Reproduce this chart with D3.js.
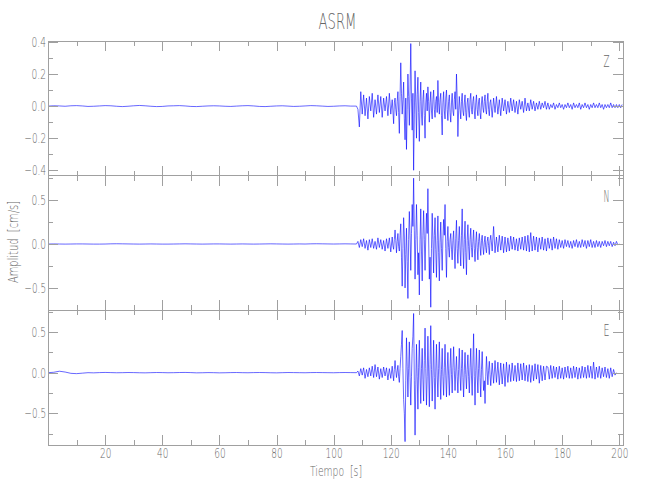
<!DOCTYPE html>
<html><head><meta charset="utf-8">
<script src="https://cdn.jsdelivr.net/npm/d3@7"></script>
<style>
body{margin:0;background:#fff}
svg{display:block}
text{font-family:"DejaVu Sans",sans-serif;font-weight:200;fill:#666}
</style>
</head><body><svg id="c" width="650" height="500"></svg>
<script>
const title = "ASRM";
const xLabel = "Tiempo  [s]";
const yLabel = "Amplitud  [cm/s]";
const channels = ["Z", "N", "E"];

// sampling grid of the traced values (s)
const preStart = 0, preStep = 2;          // quiet part
const earlyStart = 108, earlyStep = 0.5;  // first arrivals
const strongStart = 120.5, strongStep = 0.25; // strong motion
const tailStart = 155.5, tailStep = 0.5;  // coda

const zPre = [0.000,0.002,0.001,-0.001,0.002,0.003,0.001,-0.002,-0.001,0.001,0.003,0.002,-0.001,-0.003,-0.001,0.002,0.004,0.002,-0.001,-0.003,-0.002,0.001,0.002,0.003,0.001,-0.002,-0.003,-0.001,0.001,0.002,0.001,-0.001,-0.002,0.000,0.002,0.003,0.001,-0.002,-0.003,-0.001,0.001,0.002,0.000,-0.002,-0.001,0.001,0.003,0.002,0.000,-0.002,-0.001,0.001,0.002,0.000];
const zEarly = [0.00,-0.02,-0.13,0.09,-0.05,0.07,-0.06,0.05,-0.08,0.06,-0.03,0.08,-0.07,0.04,-0.05,0.07,-0.04,0.06,-0.07,0.05,-0.03,0.06,-0.06,0.08,-0.05];
const zStrong = [
 0.04,-0.03,-0.11,0.02,0.05,-0.02,-0.06,0.03,0.09,-0.04,-0.17,0.06,0.27,0.08,-0.05,0.04,0.15,-0.08,-0.21,0.05,
 -0.27,-0.02,0.20,0.06,-0.12,0.10,0.39,0.05,-0.15,0.08,-0.40,-0.05,0.22,0.02,-0.20,0.07,0.18,-0.04,-0.22,0.03,
 0.15,-0.05,-0.12,0.04,0.10,-0.06,-0.20,0.02,0.08,-0.03,0.12,0.03,-0.10,0.02,0.09,-0.03,-0.08,0.04,0.10,-0.02,
 -0.07,0.03,0.06,-0.04,0.16,0.02,-0.05,0.04,0.08,-0.06,-0.18,0.02,0.09,-0.03,-0.08,0.05,0.10,-0.02,-0.09,0.03,
 0.07,-0.04,-0.10,0.02,0.08,-0.03,-0.06,0.04,0.09,-0.02,0.20,0.05,-0.19,-0.03,0.06,-0.02,-0.08,0.03,0.08,-0.03,
 -0.06,0.02,0.07,-0.04,-0.09,0.02,0.05,-0.03,-0.07,0.04,0.08,-0.02,-0.05,0.03,0.06,-0.03,-0.08,0.02,0.07,-0.02,
 -0.06,0.03,0.05,-0.04,-0.08,0.02,0.06,-0.01,-0.04,0.03,0.07,-0.02,-0.05,0.03,0.08,-0.02,-0.06,0.02,0.04];
const zTail = [
 -0.07,0.05,-0.04,0.06,-0.05,
 0.04,-0.06,0.05,-0.03,0.04,-0.05,0.03,-0.04,0.05,-0.03,0.04,-0.04,0.03,-0.05,0.04,-0.02,0.03,-0.04,0.05,-0.03,
 0.02,-0.03,0.04,-0.02,0.03,-0.03,0.02,-0.02,0.03,-0.02,0.02,-0.01,0.03,-0.02,
 0.02,-0.02,0.01,-0.01,0.02,-0.02,0.01,-0.01,0.02,-0.01,0.01,-0.02,0.01,-0.01,0.02,-0.01,
 0.01,-0.02,0.02,-0.01,0.01,-0.01,0.02,-0.02,0.01,-0.01,0.02,-0.01,0.01,-0.02,0.01,-0.01,
 0.02,-0.01,0.01,-0.01,0.02,-0.01,0.01,-0.02,0.01,-0.01,0.01,-0.01,0.02,-0.01,0.01,-0.01,
 0.01,-0.01,0.01,-0.01,0.01];

const nPre = [0.000,0.001,0.000,-0.001,0.000,0.001,0.001,0.000,-0.001,-0.001,0.000,0.002,0.003,0.002,0.001,0.000,-0.001,0.000,0.001,0.000,-0.001,-0.001,0.000,0.001,0.002,0.001,0.000,-0.001,0.000,0.001,0.001,0.000,-0.001,0.000,0.001,0.000,-0.001,0.000,0.001,0.002,0.001,0.000,-0.001,0.000,0.001,0.000,0.002,0.003,0.002,0.001,0.000,0.001,0.002,0.001];
const nEarly = [0.00,0.03,-0.04,0.05,-0.03,0.06,-0.05,0.04,-0.07,0.05,-0.04,0.06,-0.05,0.03,-0.06,0.07,-0.04,0.05,-0.06,0.04,-0.08,0.06,-0.05,0.07,-0.09];
const nStrong = [
 0.08,-0.02,-0.06,0.05,0.16,0.04,-0.10,0.03,0.12,-0.03,-0.08,0.10,0.23,-0.15,-0.48,-0.05,0.30,0.08,-0.50,-0.12,
 0.18,-0.20,-0.62,0.05,0.37,0.10,-0.30,0.12,0.45,0.20,0.75,0.15,-0.40,0.05,0.45,0.10,-0.35,-0.10,-0.58,0.05,
 0.40,-0.08,-0.42,0.10,0.38,0.05,-0.30,0.08,0.35,0.12,0.63,0.08,-0.40,-0.15,-0.72,-0.05,0.35,0.05,-0.33,0.10,
 0.30,-0.06,-0.38,0.04,0.32,-0.10,-0.42,0.02,0.25,-0.05,-0.30,0.06,0.28,0.10,0.45,-0.05,-0.38,0.03,0.20,-0.04,
 -0.15,0.05,0.12,-0.06,-0.18,0.04,0.15,-0.08,-0.28,0.06,0.27,-0.05,-0.22,0.04,0.20,-0.06,-0.25,0.10,0.40,-0.04,
 -0.28,0.05,0.26,-0.10,-0.35,0.04,0.22,-0.03,-0.18,0.05,0.18,-0.04,-0.15,0.03,0.16,-0.05,-0.20,0.02,0.14,-0.04,
 -0.18,0.03,0.12,-0.02,-0.13,0.04,0.10,-0.03,-0.12,0.02,0.09,-0.04,-0.10,0.03,0.08,-0.02,-0.12,0.04,0.10];
const nTail = [
 -0.08,0.20,-0.10,0.08,-0.09,
 0.10,-0.07,0.09,-0.10,0.08,-0.09,0.07,-0.08,0.09,-0.06,0.08,-0.07,0.06,-0.08,0.07,-0.06,0.08,-0.07,0.09,-0.08,
 0.10,-0.09,0.13,-0.08,0.09,-0.07,0.08,-0.09,0.07,-0.06,0.08,-0.07,0.06,-0.08,0.07,-0.05,0.06,-0.07,0.08,-0.05,
 0.06,-0.06,0.05,-0.04,
 0.04,-0.05,0.05,-0.03,0.04,-0.04,0.03,-0.05,0.04,-0.03,0.05,-0.04,0.03,-0.04,0.05,-0.03,
 0.04,-0.05,0.04,-0.03,0.05,-0.04,0.03,-0.04,0.04,-0.03,0.03,-0.04,0.03,-0.02,0.04,-0.03,
 0.03,-0.02,0.03,-0.03,0.02,-0.02,0.03,-0.01,0.00];

const ePre = [0.000,0.005,0.018,0.008,-0.008,-0.012,-0.006,0.000,-0.002,0.001,0.003,0.001,-0.001,0.000,0.002,0.001,-0.001,-0.002,0.000,0.002,0.001,-0.001,0.000,0.002,0.003,0.001,-0.002,-0.001,0.001,0.000,-0.002,-0.001,0.001,0.002,0.000,-0.001,0.001,0.002,0.001,-0.001,-0.002,0.000,0.002,0.001,0.000,-0.001,0.001,0.002,0.001,0.000,-0.001,0.001,0.002,0.001];
const eEarly = [0.00,0.02,-0.04,0.05,-0.03,0.06,-0.07,0.04,-0.05,0.06,-0.04,0.08,-0.06,0.10,-0.05,0.07,-0.08,0.05,-0.06,0.07,-0.04,0.06,-0.09,0.05,-0.07];
const eStrong = [
 0.08,-0.02,-0.10,0.04,0.15,0.03,-0.06,0.02,0.09,-0.05,-0.12,0.05,0.20,0.35,0.52,0.05,-0.33,-0.50,-0.85,-0.10,
 0.43,0.08,-0.30,0.05,0.38,-0.06,-0.40,-0.05,0.30,0.45,0.73,-0.10,-0.77,-0.15,0.35,-0.05,-0.45,0.06,0.40,-0.04,
 -0.38,0.05,0.30,-0.08,-0.35,0.15,0.55,0.05,-0.40,-0.05,0.45,0.02,-0.42,0.10,0.58,0.04,-0.35,-0.03,0.40,-0.06,
 -0.45,0.02,0.35,-0.04,-0.30,0.05,0.38,-0.02,-0.33,0.04,0.30,-0.05,-0.28,0.06,0.35,-0.03,-0.30,0.02,0.25,-0.04,
 -0.28,0.05,0.30,-0.02,-0.25,0.06,0.32,0.03,-0.22,0.02,0.20,-0.05,-0.25,0.04,0.30,-0.03,-0.22,0.05,0.28,-0.06,
 -0.30,0.03,0.25,-0.02,-0.20,0.04,0.22,-0.05,-0.25,0.06,0.30,-0.04,-0.28,0.12,0.48,-0.05,-0.40,0.03,0.30,-0.04,
 -0.25,0.05,0.28,-0.06,-0.30,0.04,0.26,-0.03,-0.22,-0.10,-0.38,-0.05,0.20,0.02,-0.15,0.03,0.14,-0.02,-0.16];
const eTail = [
 0.12,-0.13,0.15,-0.12,0.13,
 -0.15,0.12,-0.14,0.11,-0.17,0.13,-0.12,0.10,-0.11,0.12,-0.10,0.09,-0.11,0.12,-0.10,0.11,-0.09,0.12,-0.10,0.09,
 -0.11,0.10,-0.12,0.09,-0.10,0.11,-0.08,0.10,-0.13,0.09,-0.10,0.08,-0.09,0.08,
 0.07,-0.08,0.09,-0.07,0.08,-0.06,0.07,-0.08,0.08,-0.07,0.06,-0.08,0.07,-0.06,0.08,-0.07,
 0.06,-0.07,0.08,-0.06,0.07,-0.08,0.06,-0.07,0.08,-0.06,0.07,-0.07,0.09,-0.06,0.08,-0.07,
 0.13,-0.08,0.07,-0.06,0.08,-0.07,0.06,-0.05,0.07,-0.06,0.05,-0.07,0.06,-0.05,0.04,-0.03,0.00];

const seriesByChannel = [
  [zPre, zEarly, zStrong, zTail],
  [nPre, nEarly, nStrong, nTail],
  [ePre, eEarly, eStrong, eTail]
];
const segStarts = [preStart, earlyStart, strongStart, tailStart];
const segSteps = [preStep, earlyStep, strongStep, tailStep];

// axis ranges
const xDomain = [0, 201.3];
const yDomains = [[-0.434, 0.406], [-0.756, 0.778], [-0.893, 0.768]];
const yMajorTicks = [[-0.4, -0.2, 0.0, 0.2, 0.4], [-0.5, 0.0, 0.5], [-0.5, 0.0, 0.5]];
const yMinorTicks = [[-0.3, -0.1, 0.1, 0.3], [-0.75, -0.25, 0.25, 0.75], [-0.75, -0.25, 0.25, 0.75]];
const xMajorTicks = [20, 40, 60, 80, 100, 120, 140, 160, 180, 200];
const xMinorTicks = [10, 30, 50, 70, 90, 110, 130, 150, 170, 190];

const svg = d3.select("#c");
const plotLeft = 48, plotRight = 623, plotTop = 41, panelH = 134.7;
const axisColor = "#a0a0a0";
const textColor = "#666";

const x = d3.scaleLinear().domain(xDomain).range([plotLeft, plotRight]);

// width of a tick label in the narrow stroke font of the original
function labelWidth(s) {
  let w = 0;
  for (const c of s) w += (c === "." ? 3 : c === "\u2212" ? 7 : 5.7);
  return w;
}

function styleAxis(g) {
  g.select(".domain").remove();
  g.selectAll(".tick line").attr("stroke", axisColor).attr("shape-rendering", "crispEdges");
  g.selectAll(".tick text").attr("fill", textColor).style("font-size", "14px")
    .each(function () {
      const s = this.textContent;
      if (s) d3.select(this).attr("textLength", labelWidth(s)).attr("lengthAdjust", "spacingAndGlyphs");
    });
}

channels.forEach((ch, i) => {
  const y0 = plotTop + i * panelH, y1 = y0 + panelH;
  const y = d3.scaleLinear().domain(yDomains[i]).range([y1, y0]);
  const g = svg.append("g");

  const clipId = "clip" + i;
  svg.append("clipPath").attr("id", clipId).append("rect")
    .attr("x", plotLeft).attr("y", y0).attr("width", plotRight - plotLeft).attr("height", panelH);

  const data = [];
  seriesByChannel[i].forEach((vals, s) => {
    vals.forEach((v, k) => data.push({t: segStarts[s] + k * segSteps[s], v}));
  });

  g.append("path").datum(data)
    .attr("clip-path", `url(#${clipId})`)
    .attr("fill", "none").attr("stroke", "#0000ff").attr("stroke-width", 0.6)
    .attr("stroke-linejoin", "round")
    .attr("d", d3.line().x(d => x(d.t)).y(d => y(d.v)));

  g.append("rect").attr("x", plotLeft).attr("y", y0).attr("width", plotRight - plotLeft).attr("height", panelH)
    .attr("fill", "none").attr("stroke", axisColor).attr("shape-rendering", "crispEdges");

  g.append("g").attr("transform", `translate(${plotLeft},0)`)
    .call(d3.axisLeft(y).tickValues(yMajorTicks[i]).tickSize(-10).tickPadding(2).tickFormat(d3.format(".1f")))
    .call(styleAxis);
  g.append("g").attr("transform", `translate(${plotLeft},0)`)
    .call(d3.axisLeft(y).tickValues(yMinorTicks[i]).tickSize(-5).tickFormat(""))
    .call(styleAxis);
  g.append("g").attr("transform", `translate(${plotRight},0)`)
    .call(d3.axisRight(y).tickValues(yMajorTicks[i]).tickSize(-10).tickFormat(""))
    .call(styleAxis);
  g.append("g").attr("transform", `translate(${plotRight},0)`)
    .call(d3.axisRight(y).tickValues(yMinorTicks[i]).tickSize(-5).tickFormat(""))
    .call(styleAxis);
  g.append("g").attr("transform", `translate(0,${y0})`)
    .call(d3.axisTop(x).tickValues(xMajorTicks).tickSize(-10).tickFormat(""))
    .call(styleAxis);
  g.append("g").attr("transform", `translate(0,${y0})`)
    .call(d3.axisTop(x).tickValues(xMinorTicks).tickSize(-5).tickFormat(""))
    .call(styleAxis);
  g.append("g").attr("transform", `translate(0,${y1})`)
    .call(d3.axisBottom(x).tickValues(xMajorTicks).tickSize(-10).tickPadding(3)
      .tickFormat(i === channels.length - 1 ? d3.format("d") : ""))
    .call(styleAxis);
  g.append("g").attr("transform", `translate(0,${y1})`)
    .call(d3.axisBottom(x).tickValues(xMinorTicks).tickSize(-5).tickFormat(""))
    .call(styleAxis);

  g.append("text").attr("x", 606.5).attr("y", y0 + 26).attr("text-anchor", "middle")
    .attr("fill", textColor).style("font-size", "15px")
    .attr("textLength", 6).attr("lengthAdjust", "spacingAndGlyphs").text(ch);
});

svg.append("text").attr("x", 337.5).attr("y", 29).attr("text-anchor", "middle")
  .attr("fill", textColor).style("font-size", "21px")
  .attr("textLength", 38).attr("lengthAdjust", "spacingAndGlyphs")
  .text(title);

svg.append("text").attr("x", 336).attr("y", 476).attr("text-anchor", "middle")
  .attr("fill", textColor).style("font-size", "14px").attr("xml:space", "preserve")
  .attr("textLength", 52).attr("lengthAdjust", "spacingAndGlyphs")
  .text(xLabel);

svg.append("text").attr("transform", "translate(17.5,242) rotate(-90)").attr("text-anchor", "middle")
  .attr("fill", textColor).style("font-size", "14px").attr("xml:space", "preserve")
  .attr("textLength", 82).attr("lengthAdjust", "spacingAndGlyphs")
  .text(yLabel);
</script>
</body></html>
